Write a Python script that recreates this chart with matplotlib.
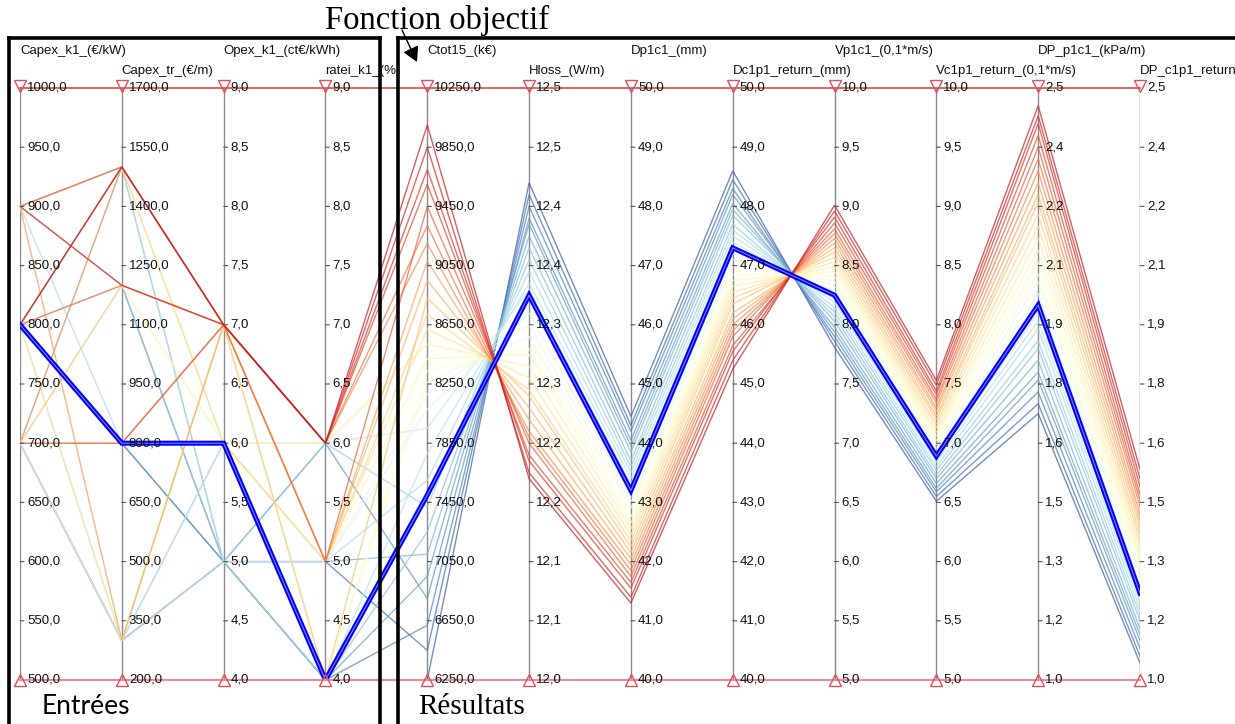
import matplotlib
matplotlib.use('Agg')
import matplotlib.pyplot as plt
import matplotlib.transforms as mtransforms
from matplotlib.colors import Normalize, LinearSegmentedColormap
from matplotlib.lines import Line2D
import numpy as np

W, H, DPI = 1235, 724, 100

# ---------------- axes definition ----------------
axis_titles = ["Capex_k1_(€/kW)", "Capex_tr_(€/m)", "Opex_k1_(ct€/kWh)", "ratei_k1_(%)",
               "Ctot15_(k€)", "Hloss_(W/m)", "Dp1c1_(mm)", "Dc1p1_return_(mm)",
               "Vp1c1_(0,1*m/s)", "Vc1p1_return_(0,1*m/s)", "DP_p1c1_(kPa/m)",
               "DP_c1p1_return_(kPa/m)"]
axis_lo = [500, 200, 4, 4, 6250, 12.0, 40, 40, 5, 5, 1.0, 1.0]
axis_hi = [1000, 1700, 9, 9, 10250, 12.5, 50, 50, 10, 10, 2.5, 2.5]

tick_labels = [
    ["500,0", "550,0", "600,0", "650,0", "700,0", "750,0", "800,0", "850,0", "900,0", "950,0", "1000,0"],
    ["200,0", "350,0", "500,0", "650,0", "800,0", "950,0", "1100,0", "1250,0", "1400,0", "1550,0", "1700,0"],
    ["4,0", "4,5", "5,0", "5,5", "6,0", "6,5", "7,0", "7,5", "8,0", "8,5", "9,0"],
    ["4,0", "4,5", "5,0", "5,5", "6,0", "6,5", "7,0", "7,5", "8,0", "8,5", "9,0"],
    ["6250,0", "6650,0", "7050,0", "7450,0", "7850,0", "8250,0", "8650,0", "9050,0", "9450,0", "9850,0", "10250,0"],
    ["12,0", "12,1", "12,1", "12,2", "12,2", "12,3", "12,3", "12,4", "12,4", "12,5", "12,5"],
    ["40,0", "41,0", "42,0", "43,0", "44,0", "45,0", "46,0", "47,0", "48,0", "49,0", "50,0"],
    ["40,0", "41,0", "42,0", "43,0", "44,0", "45,0", "46,0", "47,0", "48,0", "49,0", "50,0"],
    ["5,0", "5,5", "6,0", "6,5", "7,0", "7,5", "8,0", "8,5", "9,0", "9,5", "10,0"],
    ["5,0", "5,5", "6,0", "6,5", "7,0", "7,5", "8,0", "8,5", "9,0", "9,5", "10,0"],
    ["1,0", "1,2", "1,3", "1,5", "1,6", "1,8", "1,9", "2,1", "2,2", "2,4", "2,5"],
    ["1,0", "1,2", "1,3", "1,5", "1,6", "1,8", "1,9", "2,1", "2,2", "2,4", "2,5"],
]

# ---------------- data (one entry per design) ----------------
capex_k1 = [700, 800, 900, 700, 800, 900, 700, 800, 900, 700, 800, 800, 900, 700, 800,
            700, 900, 700, 800, 900, 700, 800, 900, 700, 800, 900, 700, 800, 900, 800]
capex_tr = [300, 800, 1200, 300, 800, 1500, 300, 1200, 800, 1500, 300, 800, 300, 1200, 1500,
            300, 1200, 800, 300, 1500, 1200, 800, 300, 1500, 1200, 1500, 800, 1500, 1200, 1500]
opex_k1 = [5, 5, 5, 5, 5, 5, 6, 5, 6, 5, 6, 6, 5, 6, 6,
           7, 6, 6, 7, 6, 7, 7, 7, 7, 7, 7, 7, 7, 7, 7]
ratei_k1 = [4, 5, 4, 6, 4, 5, 4, 6, 5, 4, 6, 4, 5, 5, 4,
            4, 5, 6, 5, 5, 4, 5, 5, 6, 6, 5, 6, 6, 6, 6]
ctot15 = [6250, 6450, 6620, 6800, 6950, 7100, 7250, 7420, 7600, 7780, 7950, 7500, 8080, 8180, 8260,
          8340, 8420, 8520, 8620, 8720, 8830, 8950, 9080, 9200, 9320, 9450, 9600, 9700, 9850, 10000]
hloss = [12.42, 12.41, 12.40, 12.39, 12.385, 12.375, 12.365, 12.355, 12.345, 12.335, 12.33, 12.325,
         12.31, 12.30, 12.29, 12.28, 12.275, 12.265, 12.255, 12.245, 12.24, 12.23, 12.22, 12.21,
         12.205, 12.20, 12.19, 12.185, 12.175, 12.17]
dp1c1 = [44.45, 44.3, 44.2, 44.05, 43.95, 43.85, 43.7, 43.6, 43.5, 43.4, 43.3, 43.2, 43.1, 43.0,
         42.9, 42.75, 42.65, 42.55, 42.45, 42.35, 42.25, 42.15, 42.05, 41.95, 41.85, 41.75, 41.65,
         41.55, 41.4, 41.3]
dc1p1_return = [48.6, 48.45, 48.3, 48.2, 48.05, 47.95, 47.85, 47.7, 47.6, 47.5, 47.4, 47.3, 47.2,
                47.1, 47.0, 46.85, 46.75, 46.65, 46.55, 46.45, 46.35, 46.2, 46.1, 46.0, 45.9, 45.8,
                45.65, 45.55, 45.4, 45.25]
vp1c1 = [7.81, 7.86, 7.9, 7.94, 7.98, 8.03, 8.07, 8.11, 8.15, 8.19, 8.22, 8.25, 8.29, 8.33, 8.37,
         8.41, 8.45, 8.49, 8.53, 8.57, 8.61, 8.65, 8.69, 8.73, 8.77, 8.81, 8.86, 8.91, 8.96, 9.01]
vc1p1_return = [6.51, 6.55, 6.59, 6.62, 6.66, 6.7, 6.73, 6.77, 6.8, 6.84, 6.87, 6.89, 6.92, 6.95,
                6.99, 7.02, 7.06, 7.09, 7.13, 7.16, 7.2, 7.23, 7.27, 7.3, 7.34, 7.37, 7.41, 7.44,
                7.49, 7.53]
dp_p1c1 = [1.675, 1.70, 1.73, 1.76, 1.78, 1.81, 1.84, 1.86, 1.89, 1.91, 1.93, 1.95, 1.98, 2.01,
           2.03, 2.06, 2.09, 2.12, 2.15, 2.18, 2.21, 2.23, 2.26, 2.29, 2.32, 2.35, 2.38, 2.41,
           2.43, 2.455]
dp_c1p1_return = [1.043, 1.06, 1.08, 1.1, 1.115, 1.13, 1.15, 1.165, 1.18, 1.195, 1.21, 1.22, 1.24,
                  1.255, 1.27, 1.29, 1.305, 1.32, 1.34, 1.355, 1.37, 1.39, 1.405, 1.42, 1.44,
                  1.455, 1.47, 1.49, 1.51, 1.534]
highlight_index = 11

columns = [capex_k1, capex_tr, opex_k1, ratei_k1, ctot15, hloss, dp1c1, dc1p1_return,
           vp1c1, vc1p1_return, dp_p1c1, dp_c1p1_return]
n_axes = len(columns)
n_lines = len(ctot15)

# ---------------- figure ----------------
fig = plt.figure(figsize=(W / DPI, H / DPI), dpi=DPI)
X0, X1, YTOP, YBOT = 20, 1140, 88, 680
ax = fig.add_axes([X0 / W, 1 - YBOT / H, (X1 - X0) / W, (YBOT - YTOP) / H])
ax.set_xlim(0, n_axes - 1)
ax.set_ylim(0, 1)
ax.axis('off')

def norm(i, v):
    return (v - axis_lo[i]) / (axis_hi[i] - axis_lo[i])

xs = list(range(n_axes))

# vertical axes
ax.vlines(xs, 0, 1, color='#8a8a8a', lw=1.0, zorder=1)

# polylines, coloured by DP_p1c1 (muted RdYlBu)
base = plt.get_cmap('RdYlBu_r')
cmap = LinearSegmentedColormap.from_list('muted', base(np.linspace(0.07, 0.93, 256)))
cnorm = Normalize(min(dp_p1c1), max(dp_p1c1))
for k in range(n_lines):
    ys = [norm(i, columns[i][k]) for i in range(n_axes)]
    ax.plot(xs, ys, color=cmap(cnorm(dp_p1c1[k])), lw=1.0, alpha=0.72, zorder=2,
            solid_joinstyle='miter')

ys_sel = [norm(i, columns[i][highlight_index]) for i in range(n_axes)]
ax.plot(xs, ys_sel, color='#0000ff', lw=3.6, zorder=5, solid_joinstyle='miter')
ax.plot(xs, ys_sel, color='white', lw=0.7, alpha=0.55, zorder=6)

# top / bottom red lines and triangles
ax.plot([0, n_axes - 1], [1, 1], color='#d94a4a', lw=1.2, zorder=7, clip_on=False)
ax.plot([0, n_axes - 1], [0, 0], color='#f08a96', lw=1.5, zorder=7, clip_on=False)
up = mtransforms.offset_copy(ax.transData, fig=fig, x=0, y=2.5, units='dots')
dn = mtransforms.offset_copy(ax.transData, fig=fig, x=0, y=0, units='dots')
ax.plot(xs, [1] * n_axes, linestyle='none', marker='v', ms=8, mfc='none', mec='#e0505a',
        mew=1.0, transform=up, clip_on=False, zorder=8)
ax.plot(xs, [0] * n_axes, linestyle='none', marker='^', ms=8, mfc='none', mec='#e0505a',
        mew=1.0, transform=dn, clip_on=False, zorder=8)

# ticks and tick labels
tick_tr = mtransforms.offset_copy(ax.transData, fig=fig, x=7, y=0, units='dots')
tick_font = dict(family=['Liberation Sans', 'DejaVu Sans'], size=9.5, color='#111111')
for i in range(n_axes):
    labels = tick_labels[i]
    nt = len(labels)
    for j, lab in enumerate(labels):
        f = j / (nt - 1)
        if 0 < j < nt - 1:
            ax.annotate('', xy=(i, f), xytext=(4, 0), textcoords='offset pixels',
                        arrowprops=dict(arrowstyle='-', color='#555555', lw=0.8,
                                        shrinkA=0, shrinkB=0))
        ax.text(i, f, lab, transform=tick_tr, ha='left', va='center', zorder=9,
                clip_on=False, **tick_font)

# axis titles (staggered)
for i, title in enumerate(axis_titles):
    ypx = 51 if i % 2 == 0 else 71
    xpx = X0 + i * (X1 - X0) / (n_axes - 1)
    fig.text(xpx / W, 1 - ypx / H, title, ha='left', va='center', **tick_font)

# annotation boxes
def px(x, y):
    return x / W, 1 - y / H

lw_box = 2.6
for (xa, ya), (xb, yb) in [((9, 38), (380, 38)), ((9, 38), (9, 730)), ((380, 38), (380, 730)),
                           ((398, 38), (1240, 38)), ((398, 38), (398, 730))]:
    (fx0, fy0), (fx1, fy1) = px(xa, ya), px(xb, yb)
    fig.add_artist(Line2D([fx0, fx1], [fy0, fy1], color='black', lw=lw_box,
                          transform=fig.transFigure, solid_capstyle='projecting'))

serif = ['Liberation Serif', 'DejaVu Serif']
fig.text(*px(437, 29), 'Fonction objectif', ha='center', va='baseline', family=serif, size=23.5)
fig.text(*px(418, 714), 'Résultats', ha='left', va='baseline', family=serif, size=21)
fig.text(*px(42, 714), 'Entrées', ha='left', va='baseline', family=['Lato', 'DejaVu Sans'], size=19)

fig.add_artist(matplotlib.patches.FancyArrowPatch(
    px(402, 30), px(417, 62), transform=fig.transFigure,
    arrowstyle='-|>,head_length=9,head_width=5', mutation_scale=1,
    color='black', lw=1.0, shrinkA=0, shrinkB=0))

fig.savefig('out.png', dpi=DPI)
